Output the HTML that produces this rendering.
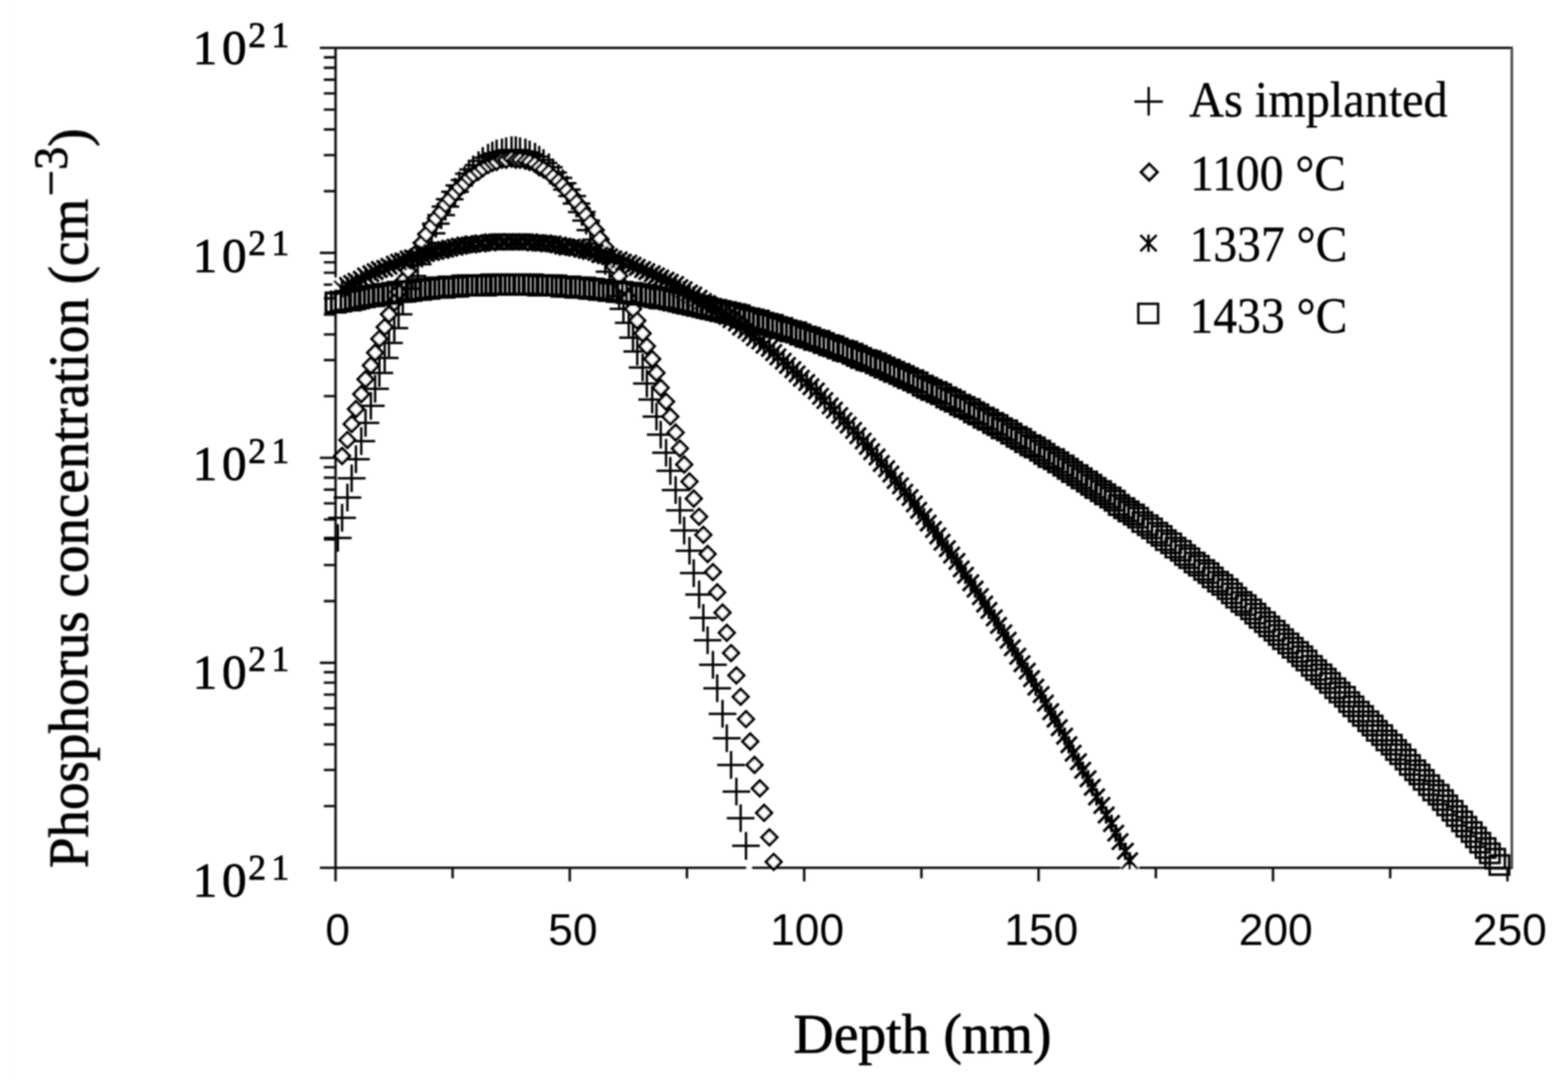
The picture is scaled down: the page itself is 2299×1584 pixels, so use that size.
<!DOCTYPE html>
<html lang="en"><head><meta charset="utf-8">
<title>Phosphorus concentration vs depth</title>
<style>
html,body{margin:0;padding:0;background:#fff;}
body{width:2299px;height:1584px;overflow:hidden;}
svg{display:block;}
.ser{font-family:"Liberation Serif","DejaVu Serif",serif;fill:#000;stroke:#000;stroke-width:1.1px;stroke-linejoin:round;}
.san{font-family:"Liberation Sans","DejaVu Sans",sans-serif;fill:#000;}
</style></head><body>
<svg xmlns="http://www.w3.org/2000/svg" width="2299" height="1584" viewBox="0 0 2299 1584">
<rect width="2299" height="1584" fill="#fff"/>
<rect x="14" y="7" width="1.6" height="1577" fill="#fdfdfd"/>
<filter id="b" x="0" y="0" width="2299" height="1584" filterUnits="userSpaceOnUse"><feGaussianBlur stdDeviation="1.1"/></filter>
<g filter="url(#b)">
<defs>
<path id="p" d="M-20.3 0H20.3M0 -20.3V20.3" fill="none" stroke="#000" stroke-width="3.5"/>
<path id="d" d="M0 -11.2L11.2 0L0 11.2L-11.2 0Z" fill="#fff" stroke="#000" stroke-width="4.2" stroke-linejoin="miter"/>
<path id="s" d="M0 -12.8V12.8M-11.8 -11.8L11.8 11.8M-11.8 11.8L11.8 -11.8" fill="none" stroke="#000" stroke-width="4.0"/>
<rect id="q" x="-14.25" y="-14.1" width="28.5" height="28.2" fill="none" stroke="#000" stroke-width="4.3"/>
<rect id="r" x="-14.25" y="-14.1" width="28.5" height="28.2" fill="none" stroke="#000" stroke-width="4.1"/>
<rect id="t" x="-14.25" y="-14.1" width="28.5" height="28.2" fill="none" stroke="#000" stroke-width="3.7"/>
</defs>
<g stroke="#111" stroke-width="3.6" fill="none" stroke-linecap="butt">
<path d="M469 70.3 H2218.1"/>
<path d="M469 1272.7 H2218.1"/>
<path d="M492 70.3 V1292.7"/>
<path d="M2216.6 70.3 V1272.7" stroke="#444" stroke-width="3.6"/>
<path d="M474.8 280.4H492M474.8 227.5H492M474.8 189.9H492M474.8 160.8H492M474.8 137H492M474.8 116.9H492M474.8 99.4H492M474.8 84.1H492M469 370.9H492M474.8 581H492M474.8 528.1H492M474.8 490.5H492M474.8 461.4H492M474.8 437.6H492M474.8 417.5H492M474.8 400H492M474.8 384.7H492M469 671.5H492M474.8 881.6H492M474.8 828.7H492M474.8 791.1H492M474.8 762H492M474.8 738.2H492M474.8 718.1H492M474.8 700.6H492M474.8 685.3H492M469 972.1H492M474.8 1182.2H492M474.8 1129.3H492M474.8 1091.7H492M474.8 1062.6H492M474.8 1038.8H492M474.8 1018.7H492M474.8 1001.2H492M474.8 985.9H492"/>
<path d="M663.6 1272.7V1288.2M835.4 1272.7V1292.7M1007.2 1272.7V1288.2M1179.1 1272.7V1292.7M1351 1272.7V1288.2M1522.8 1272.7V1292.7M1694.7 1272.7V1288.2M1866.5 1272.7V1292.7M2038.3 1272.7V1288.2M2210.2 1272.7V1292.7"/>
</g>
<path d="M487.8 407.5h8v24h-8zM1643.6 1269.5h26v7.5h-26zM1094.6 1269.5h7.4v7.5h-7.4z" fill="#fff"/>
<g><use href="#p" x="495.31" y="789.06"/><use href="#p" x="501.56" y="759.38"/><use href="#p" x="509.38" y="729.69"/><use href="#p" x="515.62" y="701.56"/><use href="#p" x="521.88" y="673.44"/><use href="#p" x="529.69" y="646.88"/><use href="#p" x="535.94" y="620.31"/><use href="#p" x="543.75" y="595.31"/><use href="#p" x="550" y="570.31"/><use href="#p" x="556.25" y="546.88"/><use href="#p" x="564.06" y="525"/><use href="#p" x="570.31" y="503.12"/><use href="#p" x="578.12" y="481.25"/><use href="#p" x="584.38" y="460.94"/><use href="#p" x="590.62" y="442.19"/><use href="#p" x="598.44" y="423.44"/><use href="#p" x="604.69" y="404.69"/><use href="#p" x="612.5" y="387.5"/><use href="#p" x="618.75" y="371.88"/><use href="#p" x="625" y="356.25"/><use href="#p" x="632.81" y="342.19"/><use href="#p" x="639.06" y="328.12"/><use href="#p" x="646.88" y="315.62"/><use href="#p" x="653.12" y="303.12"/><use href="#p" x="659.38" y="292.19"/><use href="#p" x="667.19" y="281.25"/><use href="#p" x="673.44" y="271.88"/><use href="#p" x="681.25" y="264.06"/><use href="#p" x="687.5" y="254.69"/><use href="#p" x="693.75" y="248.44"/><use href="#p" x="701.56" y="242.19"/><use href="#p" x="707.81" y="235.94"/><use href="#p" x="715.62" y="231.25"/><use href="#p" x="721.88" y="228.12"/><use href="#p" x="728.12" y="225"/><use href="#p" x="735.94" y="223.44"/><use href="#p" x="742.19" y="221.88"/><use href="#p" x="750" y="220.31"/><use href="#p" x="756.25" y="220.31"/><use href="#p" x="762.5" y="221.88"/><use href="#p" x="770.31" y="223.44"/><use href="#p" x="776.56" y="226.56"/><use href="#p" x="784.38" y="229.69"/><use href="#p" x="790.62" y="234.38"/><use href="#p" x="796.88" y="239.06"/><use href="#p" x="804.69" y="245.31"/><use href="#p" x="810.94" y="253.12"/><use href="#p" x="818.75" y="260.94"/><use href="#p" x="825" y="268.75"/><use href="#p" x="831.25" y="278.12"/><use href="#p" x="839.06" y="287.5"/><use href="#p" x="845.31" y="298.44"/><use href="#p" x="853.12" y="310.94"/><use href="#p" x="859.38" y="323.44"/><use href="#p" x="865.62" y="337.5"/><use href="#p" x="873.44" y="351.56"/><use href="#p" x="879.69" y="365.62"/><use href="#p" x="887.5" y="382.81"/><use href="#p" x="893.75" y="398.44"/><use href="#p" x="900" y="415.62"/><use href="#p" x="907.81" y="434.38"/><use href="#p" x="914.06" y="453.12"/><use href="#p" x="921.88" y="473.44"/><use href="#p" x="928.12" y="495.31"/><use href="#p" x="934.38" y="515.62"/><use href="#p" x="942.19" y="539.06"/><use href="#p" x="948.44" y="562.5"/><use href="#p" x="956.25" y="585.94"/><use href="#p" x="962.5" y="610.94"/><use href="#p" x="968.75" y="637.5"/><use href="#p" x="976.56" y="664.06"/><use href="#p" x="982.81" y="690.62"/><use href="#p" x="990.62" y="718.75"/><use href="#p" x="996.88" y="748.44"/><use href="#p" x="1003.12" y="778.12"/><use href="#p" x="1010.94" y="807.81"/><use href="#p" x="1017.19" y="840.62"/><use href="#p" x="1025" y="871.88"/><use href="#p" x="1031.25" y="906.25"/><use href="#p" x="1037.5" y="939.06"/><use href="#p" x="1045.31" y="975"/><use href="#p" x="1051.56" y="1009.38"/><use href="#p" x="1059.38" y="1046.88"/><use href="#p" x="1065.62" y="1082.81"/><use href="#p" x="1071.88" y="1121.88"/><use href="#p" x="1079.69" y="1160.94"/><use href="#p" x="1085.94" y="1200"/><use href="#p" x="1093.75" y="1240.62"/></g>
<g><use href="#d" x="501.56" y="668.75"/><use href="#d" x="509.38" y="645.31"/><use href="#d" x="515.62" y="621.88"/><use href="#d" x="521.88" y="600"/><use href="#d" x="529.69" y="578.12"/><use href="#d" x="535.94" y="556.25"/><use href="#d" x="543.75" y="535.94"/><use href="#d" x="550" y="517.19"/><use href="#d" x="556.25" y="496.88"/><use href="#d" x="564.06" y="479.69"/><use href="#d" x="570.31" y="460.94"/><use href="#d" x="578.12" y="443.75"/><use href="#d" x="584.38" y="428.12"/><use href="#d" x="590.62" y="412.5"/><use href="#d" x="598.44" y="396.88"/><use href="#d" x="604.69" y="382.81"/><use href="#d" x="612.5" y="368.75"/><use href="#d" x="618.75" y="356.25"/><use href="#d" x="625" y="343.75"/><use href="#d" x="632.81" y="331.25"/><use href="#d" x="639.06" y="320.31"/><use href="#d" x="646.88" y="310.94"/><use href="#d" x="653.12" y="300"/><use href="#d" x="659.38" y="292.19"/><use href="#d" x="667.19" y="282.81"/><use href="#d" x="673.44" y="275"/><use href="#d" x="681.25" y="268.75"/><use href="#d" x="687.5" y="260.94"/><use href="#d" x="693.75" y="256.25"/><use href="#d" x="701.56" y="251.56"/><use href="#d" x="707.81" y="246.88"/><use href="#d" x="715.62" y="242.19"/><use href="#d" x="721.88" y="239.06"/><use href="#d" x="728.12" y="237.5"/><use href="#d" x="735.94" y="234.38"/><use href="#d" x="742.19" y="234.38"/><use href="#d" x="750" y="232.81"/><use href="#d" x="756.25" y="234.38"/><use href="#d" x="762.5" y="234.38"/><use href="#d" x="770.31" y="235.94"/><use href="#d" x="776.56" y="237.5"/><use href="#d" x="784.38" y="240.62"/><use href="#d" x="790.62" y="245.31"/><use href="#d" x="796.88" y="248.44"/><use href="#d" x="804.69" y="253.12"/><use href="#d" x="810.94" y="259.38"/><use href="#d" x="818.75" y="265.62"/><use href="#d" x="825" y="271.88"/><use href="#d" x="831.25" y="279.69"/><use href="#d" x="839.06" y="287.5"/><use href="#d" x="845.31" y="296.88"/><use href="#d" x="853.12" y="306.25"/><use href="#d" x="859.38" y="315.62"/><use href="#d" x="865.62" y="326.56"/><use href="#d" x="873.44" y="337.5"/><use href="#d" x="879.69" y="350"/><use href="#d" x="887.5" y="362.5"/><use href="#d" x="893.75" y="376.56"/><use href="#d" x="900" y="390.62"/><use href="#d" x="907.81" y="404.69"/><use href="#d" x="914.06" y="420.31"/><use href="#d" x="921.88" y="437.5"/><use href="#d" x="928.12" y="453.12"/><use href="#d" x="934.38" y="470.31"/><use href="#d" x="942.19" y="489.06"/><use href="#d" x="948.44" y="507.81"/><use href="#d" x="956.25" y="526.56"/><use href="#d" x="962.5" y="546.88"/><use href="#d" x="968.75" y="568.75"/><use href="#d" x="976.56" y="589.06"/><use href="#d" x="982.81" y="610.94"/><use href="#d" x="990.62" y="634.38"/><use href="#d" x="996.88" y="657.81"/><use href="#d" x="1003.12" y="681.25"/><use href="#d" x="1010.94" y="706.25"/><use href="#d" x="1017.19" y="731.25"/><use href="#d" x="1025" y="757.81"/><use href="#d" x="1031.25" y="784.38"/><use href="#d" x="1037.5" y="812.5"/><use href="#d" x="1045.31" y="839.06"/><use href="#d" x="1051.56" y="868.75"/><use href="#d" x="1059.38" y="898.44"/><use href="#d" x="1065.62" y="928.12"/><use href="#d" x="1071.88" y="957.81"/><use href="#d" x="1079.69" y="990.62"/><use href="#d" x="1085.94" y="1021.88"/><use href="#d" x="1093.75" y="1054.69"/><use href="#d" x="1100" y="1087.5"/><use href="#d" x="1106.25" y="1121.88"/><use href="#d" x="1114.06" y="1156.25"/><use href="#d" x="1120.31" y="1192.19"/><use href="#d" x="1128.12" y="1228.12"/><use href="#d" x="1134.38" y="1264.06"/></g>
<g><use href="#s" x="501.56" y="423.44"/><use href="#s" x="509.38" y="418.75"/><use href="#s" x="515.62" y="415.62"/><use href="#s" x="521.88" y="412.5"/><use href="#s" x="529.69" y="409.38"/><use href="#s" x="535.94" y="404.69"/><use href="#s" x="543.75" y="401.56"/><use href="#s" x="550" y="398.44"/><use href="#s" x="556.25" y="395.31"/><use href="#s" x="564.06" y="393.75"/><use href="#s" x="570.31" y="390.62"/><use href="#s" x="578.12" y="387.5"/><use href="#s" x="584.38" y="384.38"/><use href="#s" x="590.62" y="382.81"/><use href="#s" x="598.44" y="379.69"/><use href="#s" x="604.69" y="378.12"/><use href="#s" x="612.5" y="376.56"/><use href="#s" x="618.75" y="373.44"/><use href="#s" x="625" y="371.88"/><use href="#s" x="632.81" y="370.31"/><use href="#s" x="639.06" y="368.75"/><use href="#s" x="646.88" y="367.19"/><use href="#s" x="653.12" y="365.62"/><use href="#s" x="659.38" y="364.06"/><use href="#s" x="667.19" y="362.5"/><use href="#s" x="673.44" y="360.94"/><use href="#s" x="681.25" y="359.38"/><use href="#s" x="687.5" y="359.38"/><use href="#s" x="693.75" y="357.81"/><use href="#s" x="701.56" y="357.81"/><use href="#s" x="707.81" y="356.25"/><use href="#s" x="715.62" y="356.25"/><use href="#s" x="721.88" y="354.69"/><use href="#s" x="728.12" y="354.69"/><use href="#s" x="735.94" y="354.69"/><use href="#s" x="742.19" y="354.69"/><use href="#s" x="750" y="354.69"/><use href="#s" x="756.25" y="354.69"/><use href="#s" x="762.5" y="354.69"/><use href="#s" x="770.31" y="354.69"/><use href="#s" x="776.56" y="354.69"/><use href="#s" x="784.38" y="356.25"/><use href="#s" x="790.62" y="356.25"/><use href="#s" x="796.88" y="356.25"/><use href="#s" x="804.69" y="357.81"/><use href="#s" x="810.94" y="357.81"/><use href="#s" x="818.75" y="359.38"/><use href="#s" x="825" y="360.94"/><use href="#s" x="831.25" y="362.5"/><use href="#s" x="839.06" y="362.5"/><use href="#s" x="845.31" y="364.06"/><use href="#s" x="853.12" y="365.62"/><use href="#s" x="859.38" y="367.19"/><use href="#s" x="865.62" y="368.75"/><use href="#s" x="873.44" y="370.31"/><use href="#s" x="879.69" y="373.44"/><use href="#s" x="887.5" y="375"/><use href="#s" x="893.75" y="376.56"/><use href="#s" x="900" y="379.69"/><use href="#s" x="907.81" y="381.25"/><use href="#s" x="914.06" y="384.38"/><use href="#s" x="921.88" y="385.94"/><use href="#s" x="928.12" y="389.06"/><use href="#s" x="934.38" y="392.19"/><use href="#s" x="942.19" y="395.31"/><use href="#s" x="948.44" y="398.44"/><use href="#s" x="956.25" y="401.56"/><use href="#s" x="962.5" y="404.69"/><use href="#s" x="968.75" y="407.81"/><use href="#s" x="976.56" y="410.94"/><use href="#s" x="982.81" y="414.06"/><use href="#s" x="990.62" y="417.19"/><use href="#s" x="996.88" y="421.88"/><use href="#s" x="1003.12" y="425"/><use href="#s" x="1010.94" y="429.69"/><use href="#s" x="1017.19" y="432.81"/><use href="#s" x="1025" y="437.5"/><use href="#s" x="1031.25" y="442.19"/><use href="#s" x="1037.5" y="445.31"/><use href="#s" x="1045.31" y="450"/><use href="#s" x="1051.56" y="454.69"/><use href="#s" x="1059.38" y="459.38"/><use href="#s" x="1065.62" y="464.06"/><use href="#s" x="1071.88" y="468.75"/><use href="#s" x="1079.69" y="473.44"/><use href="#s" x="1085.94" y="479.69"/><use href="#s" x="1093.75" y="484.38"/><use href="#s" x="1100" y="489.06"/><use href="#s" x="1106.25" y="495.31"/><use href="#s" x="1114.06" y="500"/><use href="#s" x="1120.31" y="506.25"/><use href="#s" x="1128.12" y="510.94"/><use href="#s" x="1134.38" y="517.19"/><use href="#s" x="1140.62" y="523.44"/><use href="#s" x="1148.44" y="529.69"/><use href="#s" x="1154.69" y="535.94"/><use href="#s" x="1162.5" y="542.19"/><use href="#s" x="1168.75" y="548.44"/><use href="#s" x="1175" y="554.69"/><use href="#s" x="1182.81" y="560.94"/><use href="#s" x="1189.06" y="567.19"/><use href="#s" x="1196.88" y="573.44"/><use href="#s" x="1203.12" y="581.25"/><use href="#s" x="1209.38" y="587.5"/><use href="#s" x="1217.19" y="595.31"/><use href="#s" x="1223.44" y="601.56"/><use href="#s" x="1231.25" y="609.38"/><use href="#s" x="1237.5" y="617.19"/><use href="#s" x="1243.75" y="623.44"/><use href="#s" x="1251.56" y="631.25"/><use href="#s" x="1257.81" y="639.06"/><use href="#s" x="1265.62" y="646.88"/><use href="#s" x="1271.88" y="654.69"/><use href="#s" x="1278.12" y="662.5"/><use href="#s" x="1285.94" y="670.31"/><use href="#s" x="1292.19" y="679.69"/><use href="#s" x="1300" y="687.5"/><use href="#s" x="1306.25" y="695.31"/><use href="#s" x="1312.5" y="704.69"/><use href="#s" x="1320.31" y="712.5"/><use href="#s" x="1326.56" y="721.88"/><use href="#s" x="1334.38" y="729.69"/><use href="#s" x="1340.62" y="739.06"/><use href="#s" x="1346.88" y="748.44"/><use href="#s" x="1354.69" y="757.81"/><use href="#s" x="1360.94" y="767.19"/><use href="#s" x="1368.75" y="776.56"/><use href="#s" x="1375" y="785.94"/><use href="#s" x="1381.25" y="795.31"/><use href="#s" x="1389.06" y="804.69"/><use href="#s" x="1395.31" y="814.06"/><use href="#s" x="1403.12" y="823.44"/><use href="#s" x="1409.38" y="834.38"/><use href="#s" x="1415.62" y="843.75"/><use href="#s" x="1423.44" y="854.69"/><use href="#s" x="1429.69" y="864.06"/><use href="#s" x="1437.5" y="875"/><use href="#s" x="1443.75" y="885.94"/><use href="#s" x="1450" y="895.31"/><use href="#s" x="1457.81" y="906.25"/><use href="#s" x="1464.06" y="917.19"/><use href="#s" x="1471.88" y="928.12"/><use href="#s" x="1478.12" y="939.06"/><use href="#s" x="1484.38" y="950"/><use href="#s" x="1492.19" y="962.5"/><use href="#s" x="1498.44" y="973.44"/><use href="#s" x="1506.25" y="984.38"/><use href="#s" x="1512.5" y="995.31"/><use href="#s" x="1518.75" y="1007.81"/><use href="#s" x="1526.56" y="1018.75"/><use href="#s" x="1532.81" y="1031.25"/><use href="#s" x="1540.62" y="1043.75"/><use href="#s" x="1546.88" y="1054.69"/><use href="#s" x="1553.12" y="1067.19"/><use href="#s" x="1560.94" y="1079.69"/><use href="#s" x="1567.19" y="1092.19"/><use href="#s" x="1573.44" y="1104.69"/><use href="#s" x="1581.25" y="1117.19"/><use href="#s" x="1587.5" y="1129.69"/><use href="#s" x="1595.31" y="1142.19"/><use href="#s" x="1601.56" y="1154.69"/><use href="#s" x="1607.81" y="1168.75"/><use href="#s" x="1615.62" y="1181.25"/><use href="#s" x="1621.88" y="1195.31"/><use href="#s" x="1629.69" y="1207.81"/><use href="#s" x="1635.94" y="1221.88"/><use href="#s" x="1642.19" y="1234.38"/><use href="#s" x="1650" y="1248.44"/><use href="#s" x="1656.25" y="1262.5"/></g>
<g><use href="#q" x="492.19" y="443.75"/><use href="#q" x="500" y="442.19"/><use href="#q" x="506.25" y="440.62"/><use href="#q" x="514.06" y="440.62"/><use href="#q" x="520.31" y="439.06"/><use href="#q" x="526.56" y="437.5"/><use href="#q" x="534.38" y="435.94"/><use href="#q" x="540.62" y="434.38"/><use href="#q" x="548.44" y="434.38"/><use href="#q" x="554.69" y="432.81"/><use href="#q" x="560.94" y="431.25"/><use href="#q" x="568.75" y="431.25"/><use href="#q" x="575" y="429.69"/><use href="#q" x="582.81" y="428.12"/><use href="#q" x="589.06" y="428.12"/><use href="#q" x="595.31" y="426.56"/><use href="#q" x="603.12" y="426.56"/><use href="#q" x="609.38" y="425"/><use href="#q" x="617.19" y="425"/><use href="#q" x="623.44" y="423.44"/><use href="#q" x="629.69" y="423.44"/><use href="#q" x="637.5" y="421.88"/><use href="#q" x="643.75" y="421.88"/><use href="#q" x="651.56" y="421.88"/><use href="#q" x="657.81" y="420.31"/><use href="#q" x="664.06" y="420.31"/><use href="#q" x="671.88" y="420.31"/><use href="#q" x="678.12" y="418.75"/><use href="#q" x="685.94" y="418.75"/><use href="#q" x="692.19" y="418.75"/><use href="#q" x="698.44" y="418.75"/><use href="#q" x="706.25" y="418.75"/><use href="#q" x="712.5" y="418.75"/><use href="#q" x="720.31" y="417.19"/><use href="#q" x="726.56" y="417.19"/><use href="#q" x="732.81" y="417.19"/><use href="#q" x="740.62" y="417.19"/><use href="#q" x="746.88" y="417.19"/><use href="#q" x="754.69" y="417.19"/><use href="#q" x="760.94" y="417.19"/><use href="#q" x="767.19" y="417.19"/><use href="#q" x="775" y="417.19"/><use href="#q" x="781.25" y="417.19"/><use href="#q" x="789.06" y="418.75"/><use href="#q" x="795.31" y="418.75"/><use href="#q" x="801.56" y="418.75"/><use href="#q" x="809.38" y="418.75"/><use href="#q" x="815.62" y="418.75"/><use href="#q" x="823.44" y="420.31"/><use href="#q" x="829.69" y="420.31"/><use href="#q" x="835.94" y="420.31"/><use href="#q" x="843.75" y="421.88"/><use href="#q" x="850" y="421.88"/><use href="#q" x="857.81" y="421.88"/><use href="#q" x="864.06" y="423.44"/><use href="#q" x="870.31" y="423.44"/><use href="#q" x="878.12" y="425"/><use href="#q" x="884.38" y="425"/><use href="#q" x="892.19" y="426.56"/><use href="#q" x="898.44" y="426.56"/><use href="#q" x="904.69" y="428.12"/><use href="#q" x="912.5" y="428.12"/><use href="#q" x="918.75" y="429.69"/><use href="#q" x="926.56" y="429.69"/><use href="#q" x="932.81" y="431.25"/><use href="#q" x="939.06" y="432.81"/><use href="#q" x="946.88" y="432.81"/><use href="#q" x="953.12" y="434.38"/><use href="#q" x="960.94" y="435.94"/><use href="#q" x="967.19" y="437.5"/><use href="#q" x="973.44" y="437.5"/><use href="#q" x="981.25" y="439.06"/><use href="#q" x="987.5" y="440.62"/><use href="#q" x="995.31" y="442.19"/><use href="#q" x="1001.56" y="443.75"/><use href="#q" x="1007.81" y="445.31"/><use href="#q" x="1015.62" y="446.88"/><use href="#q" x="1021.88" y="448.44"/><use href="#q" x="1029.69" y="450"/><use href="#q" x="1035.94" y="451.56"/><use href="#q" x="1042.19" y="453.12"/><use href="#q" x="1050" y="454.69"/><use href="#q" x="1056.25" y="456.25"/><use href="#q" x="1064.06" y="457.81"/><use href="#q" x="1070.31" y="459.38"/><use href="#q" x="1078.12" y="460.94"/><use href="#q" x="1084.38" y="462.5"/><use href="#q" x="1090.62" y="465.62"/><use href="#q" x="1098.44" y="467.19"/><use href="#q" x="1104.69" y="468.75"/><use href="#q" x="1112.5" y="470.31"/><use href="#q" x="1118.75" y="473.44"/><use href="#q" x="1125" y="475"/><use href="#q" x="1132.81" y="476.56"/><use href="#q" x="1139.06" y="479.69"/><use href="#q" x="1146.88" y="481.25"/><use href="#q" x="1153.12" y="484.38"/><use href="#q" x="1159.38" y="485.94"/><use href="#q" x="1167.19" y="487.5"/><use href="#q" x="1173.44" y="490.62"/><use href="#q" x="1181.25" y="493.75"/></g>
<g><use href="#r" x="1187.5" y="495.31"/><use href="#r" x="1193.75" y="498.44"/><use href="#r" x="1201.56" y="500"/><use href="#r" x="1207.81" y="503.12"/><use href="#r" x="1215.62" y="506.25"/><use href="#r" x="1221.88" y="507.81"/><use href="#r" x="1228.12" y="510.94"/><use href="#r" x="1235.94" y="514.06"/><use href="#r" x="1242.19" y="515.62"/><use href="#r" x="1250" y="518.75"/><use href="#r" x="1256.25" y="521.88"/><use href="#r" x="1262.5" y="525"/><use href="#r" x="1270.31" y="528.12"/><use href="#r" x="1276.56" y="529.69"/><use href="#r" x="1284.38" y="532.81"/><use href="#r" x="1290.62" y="535.94"/><use href="#r" x="1296.88" y="539.06"/><use href="#r" x="1304.69" y="542.19"/><use href="#r" x="1310.94" y="545.31"/><use href="#r" x="1318.75" y="548.44"/><use href="#r" x="1325" y="551.56"/><use href="#r" x="1331.25" y="554.69"/><use href="#r" x="1339.06" y="557.81"/><use href="#r" x="1345.31" y="560.94"/><use href="#r" x="1353.12" y="565.62"/><use href="#r" x="1359.38" y="568.75"/><use href="#r" x="1365.62" y="571.88"/><use href="#r" x="1373.44" y="575"/><use href="#r" x="1379.69" y="578.12"/><use href="#r" x="1387.5" y="582.81"/><use href="#r" x="1393.75" y="585.94"/><use href="#r" x="1400" y="589.06"/><use href="#r" x="1407.81" y="593.75"/><use href="#r" x="1414.06" y="596.88"/><use href="#r" x="1421.88" y="600"/><use href="#r" x="1428.12" y="604.69"/><use href="#r" x="1434.38" y="607.81"/><use href="#r" x="1442.19" y="612.5"/><use href="#r" x="1448.44" y="615.62"/><use href="#r" x="1456.25" y="620.31"/><use href="#r" x="1462.5" y="623.44"/><use href="#r" x="1468.75" y="628.12"/><use href="#r" x="1476.56" y="631.25"/><use href="#r" x="1482.81" y="635.94"/><use href="#r" x="1490.62" y="640.62"/><use href="#r" x="1496.88" y="643.75"/><use href="#r" x="1503.12" y="648.44"/><use href="#r" x="1510.94" y="653.12"/><use href="#r" x="1517.19" y="656.25"/><use href="#r" x="1525" y="660.94"/><use href="#r" x="1531.25" y="665.62"/><use href="#r" x="1537.5" y="670.31"/><use href="#r" x="1545.31" y="673.44"/><use href="#r" x="1551.56" y="678.12"/><use href="#r" x="1559.38" y="682.81"/><use href="#r" x="1565.62" y="687.5"/><use href="#r" x="1571.88" y="692.19"/><use href="#r" x="1579.69" y="696.88"/><use href="#r" x="1585.94" y="701.56"/><use href="#r" x="1593.75" y="706.25"/><use href="#r" x="1600" y="710.94"/><use href="#r" x="1606.25" y="715.62"/><use href="#r" x="1614.06" y="720.31"/><use href="#r" x="1620.31" y="725"/><use href="#r" x="1628.12" y="729.69"/><use href="#r" x="1634.38" y="734.38"/><use href="#r" x="1640.62" y="740.62"/><use href="#r" x="1648.44" y="745.31"/><use href="#r" x="1654.69" y="750"/><use href="#r" x="1662.5" y="754.69"/></g>
<g><use href="#t" x="1668.75" y="759.38"/><use href="#t" x="1675" y="765.62"/><use href="#t" x="1682.81" y="770.31"/><use href="#t" x="1689.06" y="775"/><use href="#t" x="1696.88" y="781.25"/><use href="#t" x="1703.12" y="785.94"/><use href="#t" x="1709.38" y="792.19"/><use href="#t" x="1717.19" y="796.88"/><use href="#t" x="1723.44" y="803.12"/><use href="#t" x="1731.25" y="807.81"/><use href="#t" x="1737.5" y="814.06"/><use href="#t" x="1743.75" y="818.75"/><use href="#t" x="1751.56" y="825"/><use href="#t" x="1757.81" y="829.69"/><use href="#t" x="1765.62" y="835.94"/><use href="#t" x="1771.88" y="840.62"/><use href="#t" x="1778.12" y="846.88"/><use href="#t" x="1785.94" y="853.12"/><use href="#t" x="1792.19" y="857.81"/><use href="#t" x="1800" y="864.06"/><use href="#t" x="1806.25" y="870.31"/><use href="#t" x="1812.5" y="876.56"/><use href="#t" x="1820.31" y="882.81"/><use href="#t" x="1826.56" y="887.5"/><use href="#t" x="1834.38" y="893.75"/><use href="#t" x="1840.62" y="900"/><use href="#t" x="1846.88" y="906.25"/><use href="#t" x="1854.69" y="912.5"/><use href="#t" x="1860.94" y="918.75"/><use href="#t" x="1868.75" y="925"/><use href="#t" x="1875" y="931.25"/><use href="#t" x="1881.25" y="937.5"/><use href="#t" x="1889.06" y="943.75"/><use href="#t" x="1895.31" y="950"/><use href="#t" x="1903.12" y="956.25"/><use href="#t" x="1909.38" y="962.5"/><use href="#t" x="1915.62" y="968.75"/><use href="#t" x="1923.44" y="976.56"/><use href="#t" x="1929.69" y="982.81"/><use href="#t" x="1937.5" y="989.06"/><use href="#t" x="1943.75" y="995.31"/><use href="#t" x="1950" y="1001.56"/><use href="#t" x="1957.81" y="1009.38"/><use href="#t" x="1964.06" y="1015.62"/><use href="#t" x="1971.88" y="1021.88"/><use href="#t" x="1978.12" y="1029.69"/><use href="#t" x="1984.38" y="1035.94"/><use href="#t" x="1992.19" y="1043.75"/><use href="#t" x="1998.44" y="1050"/><use href="#t" x="2006.25" y="1057.81"/><use href="#t" x="2012.5" y="1064.06"/><use href="#t" x="2018.75" y="1071.88"/><use href="#t" x="2026.56" y="1078.12"/><use href="#t" x="2032.81" y="1085.94"/><use href="#t" x="2040.62" y="1092.19"/><use href="#t" x="2046.88" y="1100"/><use href="#t" x="2053.12" y="1106.25"/><use href="#t" x="2060.94" y="1114.06"/><use href="#t" x="2067.19" y="1121.88"/><use href="#t" x="2075" y="1129.69"/><use href="#t" x="2081.25" y="1135.94"/><use href="#t" x="2087.5" y="1143.75"/><use href="#t" x="2095.31" y="1151.56"/><use href="#t" x="2101.56" y="1159.38"/><use href="#t" x="2109.38" y="1165.62"/><use href="#t" x="2115.62" y="1173.44"/><use href="#t" x="2121.88" y="1181.25"/><use href="#t" x="2129.69" y="1189.06"/><use href="#t" x="2135.94" y="1196.88"/><use href="#t" x="2143.75" y="1204.69"/><use href="#t" x="2150" y="1212.5"/><use href="#t" x="2157.81" y="1220.31"/><use href="#t" x="2164.06" y="1228.12"/><use href="#t" x="2170.31" y="1235.94"/><use href="#t" x="2178.12" y="1243.75"/><use href="#t" x="2184.38" y="1251.56"/><use href="#t" x="2192.19" y="1259.38"/><use href="#t" x="2198.44" y="1268.75"/></g>
<text class="ser" x="282.5" y="93.6" font-size="72" letter-spacing="7">10</text>
<text class="ser" x="364" y="68.5" font-size="52" letter-spacing="8">21</text>
<text class="ser" x="282.5" y="398.9" font-size="72" letter-spacing="7">10</text>
<text class="ser" x="364" y="373.8" font-size="52" letter-spacing="8">21</text>
<text class="ser" x="282.5" y="704.2" font-size="72" letter-spacing="7">10</text>
<text class="ser" x="364" y="679.1" font-size="52" letter-spacing="8">21</text>
<text class="ser" x="282.5" y="1009.5" font-size="72" letter-spacing="7">10</text>
<text class="ser" x="364" y="984.4" font-size="52" letter-spacing="8">21</text>
<text class="ser" x="282.5" y="1314.8" font-size="72" letter-spacing="7">10</text>
<text class="ser" x="364" y="1289.7" font-size="52" letter-spacing="8">21</text>
<text class="san" x="495" y="1386" font-size="65" text-anchor="middle">0</text>
<text class="san" x="840" y="1386" font-size="65" text-anchor="middle">50</text>
<text class="san" x="1183.4" y="1386" font-size="65" text-anchor="middle">100</text>
<text class="san" x="1526.8" y="1386" font-size="65" text-anchor="middle">150</text>
<text class="san" x="1870.5" y="1386" font-size="65" text-anchor="middle">200</text>
<text class="san" x="2213.8" y="1386" font-size="65" text-anchor="middle">250</text>
<text class="ser" transform="translate(1163.5 1544.3) scale(0.9825 1)" font-size="83">Depth (nm)</text>
<text class="ser" transform="translate(128.2 1273.3) rotate(-90) scale(0.9725 1)" font-size="83">Phosphorus concentration (cm<tspan font-size="70" dy="-30" dx="4">−3</tspan><tspan dy="30">)</tspan></text>
<path d="M1663.3 148.9H1705.1M1684.2 127.6V169.6" fill="none" stroke="#000" stroke-width="3.5"/>
<path d="M1685 240.7L1696.7 252.4L1685 264.1L1673.3 252.4Z" fill="#fff" stroke="#000" stroke-width="4.4"/>
<path d="M1683.9 344V369.4M1672 344.8L1695.8 368.6M1672 368.6L1695.8 344.8" fill="none" stroke="#000" stroke-width="3.5"/>
<rect x="1669" y="445.6" width="29" height="28.2" fill="none" stroke="#000" stroke-width="3.5"/>
<text class="ser" transform="translate(1743.6 170.6) scale(0.962 1)" font-size="73.5" style="stroke-width:0.5px">As implanted</text>
<text class="ser" transform="translate(1745 278.8) scale(0.948 1)" font-size="73.5" style="stroke-width:0.5px">1100 °C</text>
<text class="ser" transform="translate(1744 382.7) scale(0.95 1)" font-size="73.5" style="stroke-width:0.5px">1337 °C</text>
<text class="ser" transform="translate(1744 487.5) scale(0.95 1)" font-size="73.5" style="stroke-width:0.5px">1433 °C</text>
</g>
</svg>
</body></html>
